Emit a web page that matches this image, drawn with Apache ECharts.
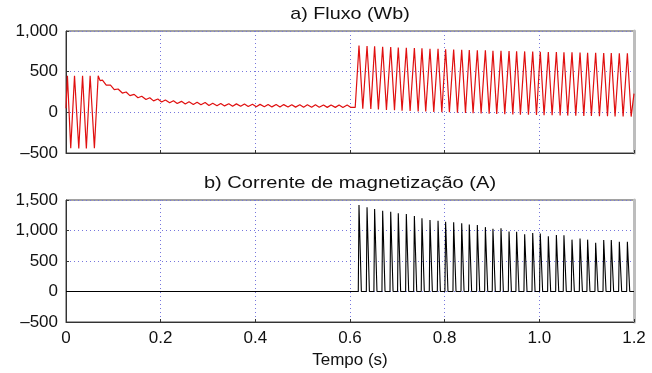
<!DOCTYPE html>
<html>
<head>
<meta charset="utf-8">
<script src="https://cdn.jsdelivr.net/npm/echarts@6/dist/echarts.min.js"></script>
<style>
html,body{margin:0;padding:0;background:#fff;}
#chart{width:652px;height:373px;}
</style>
</head>
<body>
<div id="chart"></div>
<script>
// ---------- data ----------
const titleA = 'a) Fluxo (Wb)';
const titleB = 'b) Corrente de magnetização (A)';
const xName = 'Tempo (s)';

const xTicks = [0, 0.2, 0.4, 0.6, 0.8, 1.0, 1.2];
const xTickLabels = ['0', '0.2', '0.4', '0.6', '0.8', '1.0', '1.2'];
const yTicksA = [-500, 0, 500, 1000];
const yTickLabelsA = ['\u2013500', '0', '500', '1,000'];
const yTicksB = [-500, 0, 500, 1000, 1500];
const yTickLabelsB = ['\u2013500', '0', '500', '1,000', '1,500'];

// Flux: energisation transient (0 - 0.07 s)
const fluxTransT = [0, 0.003, 0.010, 0.018, 0.027, 0.035, 0.043, 0.051, 0.060, 0.068, 0.072];
const fluxTransV = [50, 450, -440, 450, -445, 450, -445, 450, -440, 450, 390];

// Flux: decaying DC with small ripple (0.07 - 0.60 s)
const fluxDecayT = [0.077, 0.085, 0.094, 0.102, 0.110, 0.119, 0.127, 0.135, 0.144, 0.152, 0.160, 0.169, 0.177, 0.185, 0.194, 0.202, 0.210, 0.219, 0.227, 0.235, 0.244, 0.252, 0.260, 0.269, 0.277, 0.285, 0.294, 0.302, 0.310, 0.319, 0.327, 0.335, 0.344, 0.352, 0.360, 0.369, 0.377, 0.385, 0.394, 0.402, 0.410, 0.419, 0.427, 0.435, 0.444, 0.452, 0.460, 0.469, 0.477, 0.485, 0.494, 0.502, 0.510, 0.519, 0.527, 0.535, 0.544, 0.552, 0.560, 0.569, 0.577, 0.585, 0.594, 0.602];
const fluxDecayV = [395, 335, 335, 280, 287, 237, 250, 205, 221, 179, 198, 158, 179, 141, 164, 128, 152, 117, 143, 109, 135, 102, 129, 97, 125, 93, 121, 85, 112, 82, 109, 79, 106, 76, 104, 74, 102, 72, 100, 70, 98, 68, 97, 67, 96, 66, 95, 65, 94, 64, 93, 63, 92, 62, 92, 62, 91, 61, 91, 61, 90, 60, 90, 60];

// Flux: saturated oscillation (0.61 - 1.2 s)
const fluxSatT = [0.611, 0.619, 0.627, 0.636, 0.644, 0.652, 0.660, 0.669, 0.677, 0.686, 0.694, 0.702, 0.710, 0.719, 0.727, 0.736, 0.744, 0.752, 0.760, 0.769, 0.777, 0.786, 0.794, 0.802, 0.810, 0.819, 0.827, 0.836, 0.844, 0.852, 0.860, 0.869, 0.877, 0.886, 0.894, 0.902, 0.910, 0.919, 0.927, 0.936, 0.944, 0.952, 0.960, 0.969, 0.977, 0.986, 0.994, 1.002, 1.010, 1.019, 1.027, 1.036, 1.044, 1.052, 1.060, 1.069, 1.077, 1.086, 1.094, 1.102, 1.110, 1.119, 1.127, 1.136, 1.144, 1.152, 1.160, 1.169, 1.177, 1.186, 1.194, 1.200];
const fluxSatV = [60, 820, 45, 815, 40, 812, 35, 806, 30, 803, 25, 798, 20, 795, 18, 790, 12, 786, 10, 782, 5, 780, 2, 776, 0, 772, -5, 770, -8, 767, -10, 764, -15, 762, -18, 758, -20, 756, -22, 753, -25, 750, -28, 749, -30, 746, -32, 744, -35, 742, -36, 740, -38, 738, -40, 737, -42, 735, -44, 733, -45, 732, -47, 730, -48, 729, -50, 727, -51, 726, -52, 230];

// Magnetising current: pulse peak times and peak values
const currentPulseT = [0.619, 0.636, 0.652, 0.669, 0.686, 0.702, 0.719, 0.736, 0.752, 0.769, 0.786, 0.802, 0.819, 0.836, 0.852, 0.869, 0.886, 0.902, 0.919, 0.936, 0.952, 0.969, 0.986, 1.002, 1.019, 1.036, 1.052, 1.069, 1.086, 1.102, 1.119, 1.136, 1.152, 1.169, 1.186];
const currentPulseV = [1418, 1380, 1352, 1325, 1308, 1282, 1270, 1238, 1200, 1172, 1160, 1144, 1134, 1118, 1100, 1090, 1055, 1030, 1036, 985, 980, 940, 960, 950, 905, 925, 920, 850, 870, 850, 800, 845, 845, 815, 815];
const pulseRise = 0.0015;   // s before the peak where the pulse leaves zero
const pulseFall = 0.005;    // s after the peak where it returns to zero

// ---------- build series ----------
function zip(t, v) { return t.map((x, i) => [x, v[i]]); }
const fluxData = [].concat(zip(fluxTransT, fluxTransV), zip(fluxDecayT, fluxDecayV), zip(fluxSatT, fluxSatV));
const currentData = [[0, 0]];
currentPulseT.forEach((t, i) => {
  currentData.push([t - pulseRise, 0], [t, currentPulseV[i]], [t + pulseFall, 0]);
});
currentData.push([1.2, 0]);

function lookup(ticks, labels) {
  return function (v) {
    for (let i = 0; i < ticks.length; i++) if (Math.abs(ticks[i] - v) < 1e-9) return labels[i];
    return '';
  };
}

const FONT = '"Liberation Sans", Arial, sans-serif';
const FS = 17;
const gridLine = { show: true, lineStyle: { color: '#7777dd', type: [1, 3], width: 1 } };
const plotL = 66, plotR = 18;
const plotMid = plotL + (652 - plotL - plotR) / 2;

function xAxisCfg(gi, showLabels) {
  return {
    type: 'value', gridIndex: gi, min: 0, max: 1.2, interval: 0.2,
    axisLine: { show: true, onZero: false, lineStyle: { color: '#333', width: 1 } },
    axisTick: { show: true, inside: true, length: 3, lineStyle: { color: '#333' } },
    axisLabel: { show: showLabels, formatter: lookup(xTicks, xTickLabels), color: '#111', fontSize: FS, fontFamily: FONT, margin: 8 },
    splitLine: gridLine,
    name: showLabels ? xName : '', nameLocation: 'middle', nameGap: 30,
    nameTextStyle: { color: '#111', fontSize: FS, fontFamily: FONT }
  };
}
function yAxisCfg(gi, min, max, ticks, labels) {
  return {
    type: 'value', gridIndex: gi, min: min, max: max, interval: 500,
    axisLine: { show: true, lineStyle: { color: '#333', width: 1 } },
    axisTick: { show: true, inside: true, length: 3, lineStyle: { color: '#333' } },
    axisLabel: { formatter: lookup(ticks, labels), color: '#111', fontSize: FS, fontFamily: FONT, margin: 8 },
    splitLine: gridLine
  };
}
function rightAxisCfg(gi, min, max) {
  return {
    type: 'value', gridIndex: gi, position: 'right', min: min, max: max, interval: 500,
    axisLine: { show: true, lineStyle: { color: '#bdbdbd', width: 3 } },
    axisTick: { show: false }, axisLabel: { show: false }, splitLine: { show: false }
  };
}

const chart = echarts.init(document.getElementById('chart'), null, { renderer: 'canvas' });
chart.setOption({
  animation: false,
  backgroundColor: '#fff',
  graphic: [
    { type: 'text', x: plotMid, y: 14, scaleX: 1.16, style: { text: titleA, textAlign: 'center', textVerticalAlign: 'middle', fill: '#111', font: FS + 'px ' + FONT } },
    { type: 'text', x: plotMid, y: 183, scaleX: 1.18, style: { text: titleB, textAlign: 'center', textVerticalAlign: 'middle', fill: '#111', font: FS + 'px ' + FONT } }
  ],
  grid: [
    { left: plotL, right: plotR, top: 31, height: 122, show: true, borderColor: '#444', borderWidth: 1, backgroundColor: '#fff' },
    { left: plotL, right: plotR, top: 200, height: 122, show: true, borderColor: '#444', borderWidth: 1, backgroundColor: '#fff' }
  ],
  xAxis: [xAxisCfg(0, false), xAxisCfg(1, true)],
  yAxis: [
    yAxisCfg(0, -500, 1000, yTicksA, yTickLabelsA),
    yAxisCfg(1, -500, 1500, yTicksB, yTickLabelsB),
    rightAxisCfg(0, -500, 1000),
    rightAxisCfg(1, -500, 1500)
  ],
  series: [
    { type: 'line', xAxisIndex: 0, yAxisIndex: 0, data: fluxData, showSymbol: false, lineStyle: { color: '#e01010', width: 1.2 }, silent: true, clip: true },
    { type: 'line', xAxisIndex: 1, yAxisIndex: 1, data: currentData, showSymbol: false, lineStyle: { color: '#000', width: 1.1 }, silent: true, clip: true }
  ]
});
</script>
</body>
</html>
